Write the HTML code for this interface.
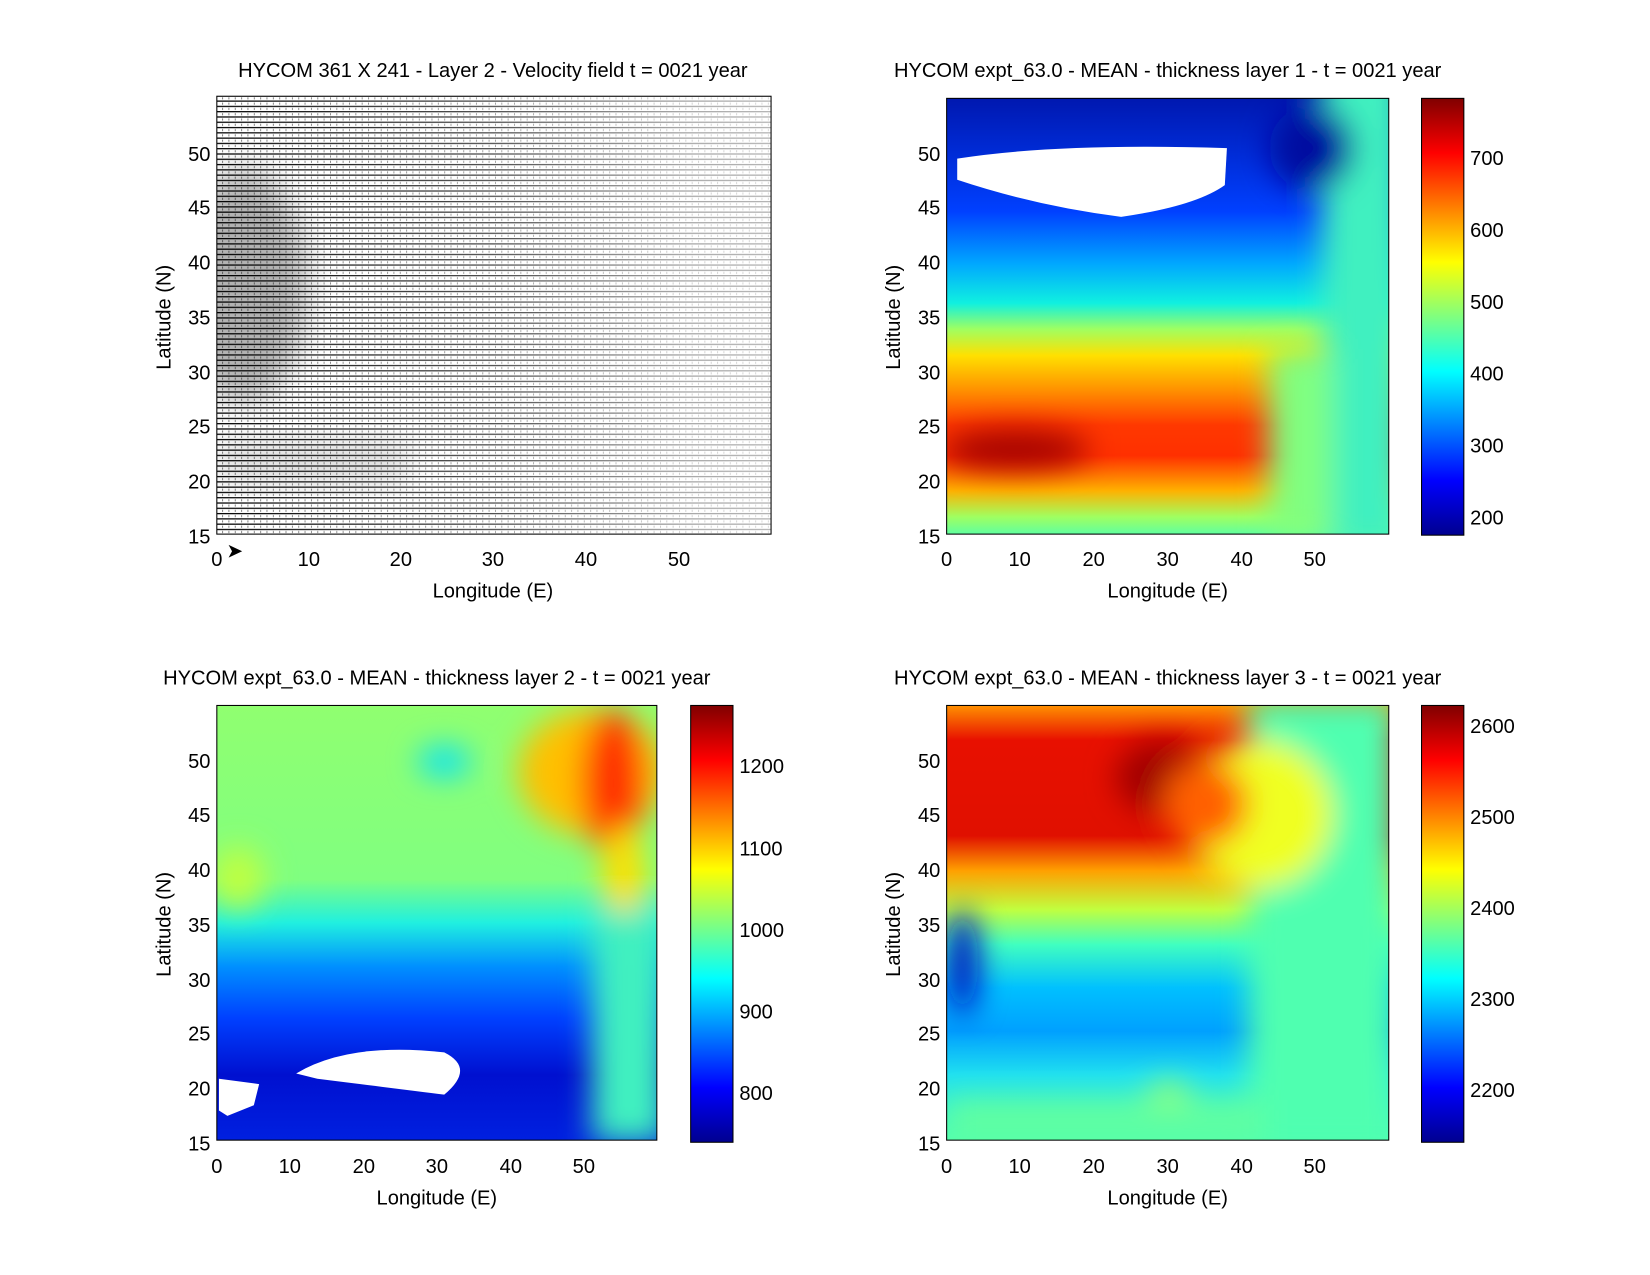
<!DOCTYPE html>
<html><head><meta charset="utf-8"><style>
body{margin:0;background:#fff;}
text{font-family:"Liberation Sans",sans-serif;font-size:19px;fill:#000;}
</style></head><body>
<svg width="1650" height="1275" viewBox="0 0 1560 1205.5" preserveAspectRatio="none" xmlns="http://www.w3.org/2000/svg" style="display:block">
<defs>
<linearGradient id="jet" x1="0" y1="1" x2="0" y2="0">
<stop offset="0" stop-color="#00008f"/><stop offset="0.125" stop-color="#0000ff"/>
<stop offset="0.375" stop-color="#00ffff"/><stop offset="0.625" stop-color="#ffff00"/>
<stop offset="0.875" stop-color="#ff0000"/><stop offset="1" stop-color="#800000"/>
</linearGradient>
<filter id="b1" x="-20%" y="-20%" width="140%" height="140%"><feGaussianBlur stdDeviation="14"/></filter>
<clipPath id="c1"><rect x="205" y="91" width="524" height="414"/></clipPath>
<clipPath id="c2"><rect x="895" y="93" width="418" height="412"/></clipPath>
<clipPath id="c3"><rect x="205" y="667" width="416" height="411"/></clipPath>
<clipPath id="c4"><rect x="895" y="667" width="418" height="411"/></clipPath>
<pattern id="hl" width="6" height="5" patternUnits="userSpaceOnUse"><rect width="6" height="5" fill="#fff"/><rect y="0" width="6" height="1.2" fill="#000"/><rect x="0" y="2" width="0.8" height="2" fill="#666"/></pattern>
<linearGradient id="fade" x1="0" x2="1" y1="0" y2="0">
<stop offset="0" stop-color="#fff" stop-opacity="0"/><stop offset="0.5" stop-color="#fff" stop-opacity="0.3"/><stop offset="0.85" stop-color="#fff" stop-opacity="0.65"/><stop offset="1" stop-color="#fff" stop-opacity="0.7"/></linearGradient>
<linearGradient id="g2" x1="0" y1="0" x2="0" y2="1">
<stop offset="0" stop-color="#0018b0"/><stop offset="0.26" stop-color="#0040ff"/><stop offset="0.38" stop-color="#00a8ff"/><stop offset="0.47" stop-color="#10f0e0"/><stop offset="0.53" stop-color="#a0ff60"/><stop offset="0.59" stop-color="#ffe000"/><stop offset="0.67" stop-color="#ff9000"/><stop offset="0.75" stop-color="#ff3800"/><stop offset="0.82" stop-color="#ff3000"/><stop offset="0.9" stop-color="#ffb000"/><stop offset="0.96" stop-color="#a0ff60"/><stop offset="1" stop-color="#60ffa0"/></linearGradient>
<linearGradient id="g3" x1="0" y1="0" x2="0" y2="1">
<stop offset="0" stop-color="#90ff70"/><stop offset="0.4" stop-color="#80ff80"/><stop offset="0.5" stop-color="#20f0e0"/><stop offset="0.6" stop-color="#0090ff"/><stop offset="0.72" stop-color="#0040ff"/><stop offset="0.85" stop-color="#0010d0"/><stop offset="1" stop-color="#0020e0"/></linearGradient>
<linearGradient id="g4" x1="0" y1="0" x2="0" y2="1">
<stop offset="0" stop-color="#ff9000"/><stop offset="0.08" stop-color="#e81000"/><stop offset="0.3" stop-color="#e01000"/><stop offset="0.38" stop-color="#ffa000"/><stop offset="0.47" stop-color="#c0ff40"/><stop offset="0.55" stop-color="#40ffc0"/><stop offset="0.65" stop-color="#00c0ff"/><stop offset="0.75" stop-color="#00a0ff"/><stop offset="0.85" stop-color="#20e0f0"/><stop offset="1" stop-color="#50ffb0"/></linearGradient>
</defs>

<!-- Panel 1 -->
<g clip-path="url(#c1)">
<rect x="205" y="91" width="524" height="414" fill="url(#hl)"/>
<rect x="205" y="91" width="524" height="414" fill="url(#fade)"/>
<ellipse cx="230" cy="270" rx="60" ry="110" fill="#000" opacity="0.3" filter="url(#b1)"/>
<rect x="205" y="415" width="180" height="45" fill="#000" opacity="0.12" filter="url(#b1)"/>
</g>
<rect x="205" y="91" width="524" height="414" fill="none" stroke="#000"/>

<!-- Panel 2 -->
<g clip-path="url(#c2)">
<rect x="895" y="93" width="418" height="412" fill="url(#g2)"/>
<g filter="url(#b1)">
<rect x="1250" y="60" width="80" height="460" fill="#40f0c0"/>
<rect x="1200" y="330" width="60" height="180" fill="#80ff80"/>
<ellipse cx="960" cy="425" rx="70" ry="18" fill="#a00000"/>
<ellipse cx="1240" cy="140" rx="40" ry="40" fill="#0010a0"/>
</g>
<path d="M905 150 Q1000 135 1160 140 L1158 175 Q1130 195 1060 205 Q980 195 905 170 Z" fill="#fff"/>
</g>
<rect x="895" y="93" width="418" height="412" fill="none" stroke="#000"/>
<rect x="1344" y="93" width="40" height="413" fill="url(#jet)" stroke="#000"/>

<!-- Panel 3 -->
<g clip-path="url(#c3)">
<rect x="205" y="667" width="416" height="411" fill="url(#g3)"/>
<g filter="url(#b1)">
<ellipse cx="560" cy="730" rx="70" ry="60" fill="#ffc000"/>
<ellipse cx="580" cy="740" rx="30" ry="70" fill="#ff3000"/>
<ellipse cx="590" cy="830" rx="20" ry="50" fill="#ffe000"/>
<ellipse cx="420" cy="720" rx="25" ry="14" fill="#00e0ff"/>
<rect x="560" y="860" width="70" height="220" fill="#40f0c0"/>
<ellipse cx="225" cy="830" rx="25" ry="30" fill="#c0ff40"/>
</g>
<path d="M280 1015 Q330 985 420 995 Q450 1010 420 1035 Q380 1030 300 1020 Z" fill="#fff"/>
<path d="M207 1020 L245 1025 L240 1045 L215 1055 L207 1050 Z" fill="#fff"/>
</g>
<rect x="205" y="667" width="416" height="411" fill="none" stroke="#000"/>
<rect x="653" y="667" width="40" height="413" fill="url(#jet)" stroke="#000"/>

<!-- Panel 4 -->
<g clip-path="url(#c4)">
<rect x="895" y="667" width="418" height="411" fill="url(#g4)"/>
<g filter="url(#b1)">
<rect x="1180" y="660" width="140" height="430" fill="#50ffb0"/>
<ellipse cx="1190" cy="770" rx="70" ry="70" fill="#f0ff20"/>
<ellipse cx="1100" cy="735" rx="45" ry="35" fill="#a00000"/>
<ellipse cx="1140" cy="760" rx="40" ry="40" fill="#ff6000"/>
<ellipse cx="910" cy="910" rx="15" ry="50" fill="#0010c0"/>
<ellipse cx="1105" cy="1035" rx="20" ry="12" fill="#a0ff60"/>
<rect x="895" y="1040" width="300" height="40" fill="#60ffa0"/>
</g>
</g>
<rect x="895" y="667" width="418" height="411" fill="none" stroke="#000"/>
<rect x="1344" y="667" width="40" height="413" fill="url(#jet)" stroke="#000"/>

<text x="466" y="73" text-anchor="middle">HYCOM 361 X 241 - Layer 2 - Velocity field  t = 0021 year</text>
<text x="1104" y="73" text-anchor="middle">HYCOM expt_63.0 - MEAN - thickness layer 1 - t = 0021 year</text>
<text x="413" y="647" text-anchor="middle">HYCOM expt_63.0 - MEAN - thickness layer 2 - t = 0021 year</text>
<text x="1104" y="647" text-anchor="middle">HYCOM expt_63.0 - MEAN - thickness layer 3 - t = 0021 year</text>

<text x="466" y="565" text-anchor="middle">Longitude (E)</text>
<text x="1104" y="565" text-anchor="middle">Longitude (E)</text>
<text x="413" y="1139" text-anchor="middle">Longitude (E)</text>
<text x="1104" y="1139" text-anchor="middle">Longitude (E)</text>
<text transform="translate(161,300) rotate(-90)" text-anchor="middle">Latitude (N)</text>
<text transform="translate(851,300) rotate(-90)" text-anchor="middle">Latitude (N)</text>
<text transform="translate(161,874) rotate(-90)" text-anchor="middle">Latitude (N)</text>
<text transform="translate(851,874) rotate(-90)" text-anchor="middle">Latitude (N)</text>

<g text-anchor="middle">
<text x="205" y="535">0</text><text x="292" y="535">10</text><text x="379" y="535">20</text><text x="466" y="535">30</text><text x="554" y="535">40</text><text x="642" y="535">50</text>
<text x="895" y="535">0</text><text x="964" y="535">10</text><text x="1034" y="535">20</text><text x="1104" y="535">30</text><text x="1174" y="535">40</text><text x="1243" y="535">50</text>
<text x="205" y="1109">0</text><text x="274" y="1109">10</text><text x="344" y="1109">20</text><text x="413" y="1109">30</text><text x="483" y="1109">40</text><text x="552" y="1109">50</text>
<text x="895" y="1109">0</text><text x="964" y="1109">10</text><text x="1034" y="1109">20</text><text x="1104" y="1109">30</text><text x="1174" y="1109">40</text><text x="1243" y="1109">50</text>
</g>
<text x="214" y="527" font-size="12">➤</text>
<g text-anchor="end">
<text x="199" y="514">15</text><text x="199" y="462">20</text><text x="199" y="410">25</text><text x="199" y="359">30</text><text x="199" y="307">35</text><text x="199" y="255">40</text><text x="199" y="203">45</text><text x="199" y="152">50</text>
<text x="889" y="514">15</text><text x="889" y="462">20</text><text x="889" y="410">25</text><text x="889" y="359">30</text><text x="889" y="307">35</text><text x="889" y="255">40</text><text x="889" y="203">45</text><text x="889" y="152">50</text>
<text x="199" y="1088">15</text><text x="199" y="1036">20</text><text x="199" y="984">25</text><text x="199" y="933">30</text><text x="199" y="881">35</text><text x="199" y="829">40</text><text x="199" y="777">45</text><text x="199" y="726">50</text>
<text x="889" y="1088">15</text><text x="889" y="1036">20</text><text x="889" y="984">25</text><text x="889" y="933">30</text><text x="889" y="881">35</text><text x="889" y="829">40</text><text x="889" y="777">45</text><text x="889" y="726">50</text>
</g>
<text x="1390" y="156">700</text><text x="1390" y="224">600</text><text x="1390" y="292">500</text><text x="1390" y="360">400</text><text x="1390" y="428">300</text><text x="1390" y="496">200</text>
<text x="699" y="731">1200</text><text x="699" y="809">1100</text><text x="699" y="886">1000</text><text x="699" y="963">900</text><text x="699" y="1040">800</text>
<text x="1390" y="693">2600</text><text x="1390" y="779">2500</text><text x="1390" y="865">2400</text><text x="1390" y="951">2300</text><text x="1390" y="1037">2200</text>
</svg>
</body></html>
